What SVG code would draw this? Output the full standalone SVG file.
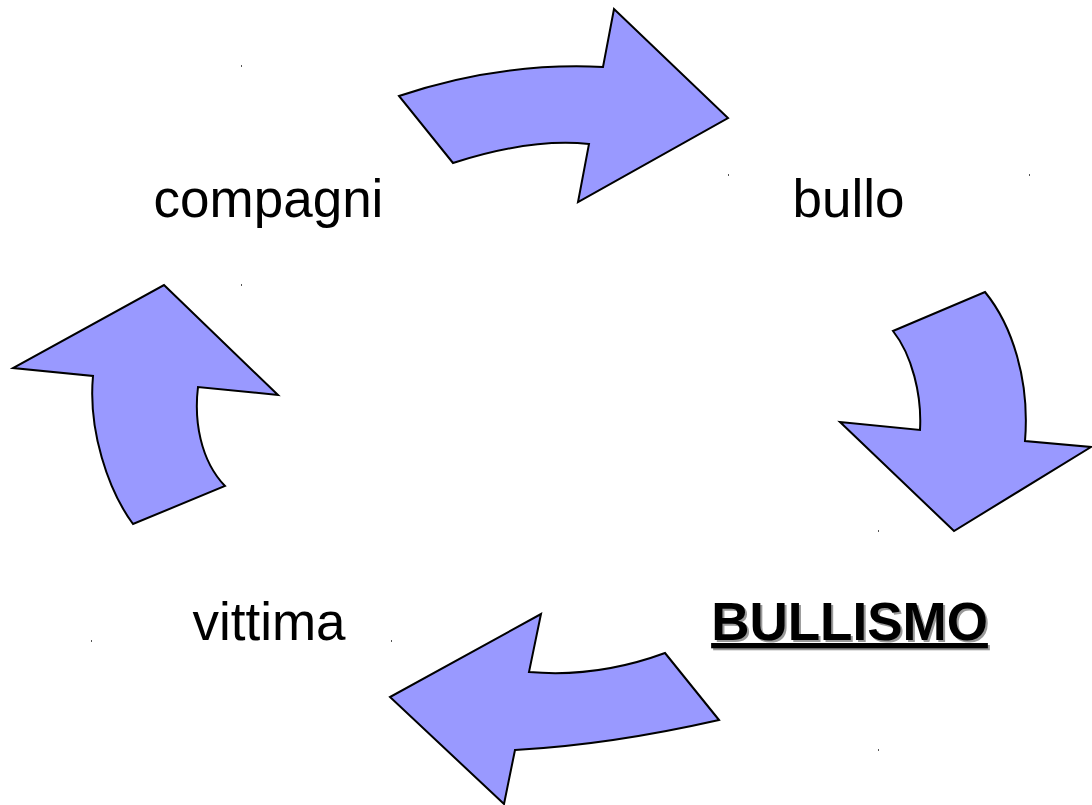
<svg xmlns="http://www.w3.org/2000/svg" width="1092" height="805" viewBox="0 0 1092 805">
  <style>
    .arrow { fill: #9999ff; stroke: #000; stroke-width: 2; stroke-linejoin: miter; }
    .lbl { font-family: "Liberation Sans", Arial, sans-serif; font-size: 53px; fill: #000; text-anchor: middle; }
    .bold { font-weight: bold; text-decoration: underline; }
    .shadow { fill: #999; }
    .dot { fill: #555; }
  </style>
  <rect width="1092" height="805" fill="#fff"/>
  <g id="connectors">
    <path id="arrow-top" class="arrow" d="M399,96 Q499,62 603,67 L614,9 L728,118 L578,202 L589,144 Q530,138 453,163 Z"/>
    <path id="arrow-right" class="arrow" d="M985,292 C1012,325 1030,380 1025,441 L1091,447 L954,531 L840,422 L920,430 C922,395 912,355 893,331 Z"/>
    <path id="arrow-bottom" class="arrow" d="M665,653 L719,720 Q609,745 515,750 L504,804 L390,697 L541,614 L529,672 Q597,678 665,653 Z"/>
    <path id="arrow-left" class="arrow" d="M164,285 L278,395 L198,387 C194,420 200,460 225,486 L133,524 C108,490 88,430 93,376 L13,368 Z"/>
  </g>
  <g id="node-compagni">
    <text class="lbl" x="268.5" y="217">compagni</text>
  </g>
  <g id="node-bullo">
    <text class="lbl" x="848.5" y="217">bullo</text>
  </g>
  <g id="node-vittima">
    <text class="lbl" x="269" y="640">vittima</text>
  </g>
  <g id="node-bullismo">
    <text class="lbl bold shadow" x="851.5" y="642">BULLISMO</text>
    <text class="lbl bold" x="849.5" y="640">BULLISMO</text>
  </g>
  <g id="marks">
    <rect class="dot" x="241" y="65" width="1" height="2"/>
    <rect class="dot" x="241" y="284" width="1" height="2"/>
    <rect class="dot" x="728" y="174" width="1" height="2"/>
    <rect class="dot" x="1029" y="174" width="1" height="2"/>
    <rect class="dot" x="878" y="530" width="1" height="2"/>
    <rect class="dot" x="878" y="749" width="1" height="2"/>
    <rect class="dot" x="91" y="640" width="1" height="2"/>
    <rect class="dot" x="391" y="640" width="1" height="2"/>
  </g>
</svg>
